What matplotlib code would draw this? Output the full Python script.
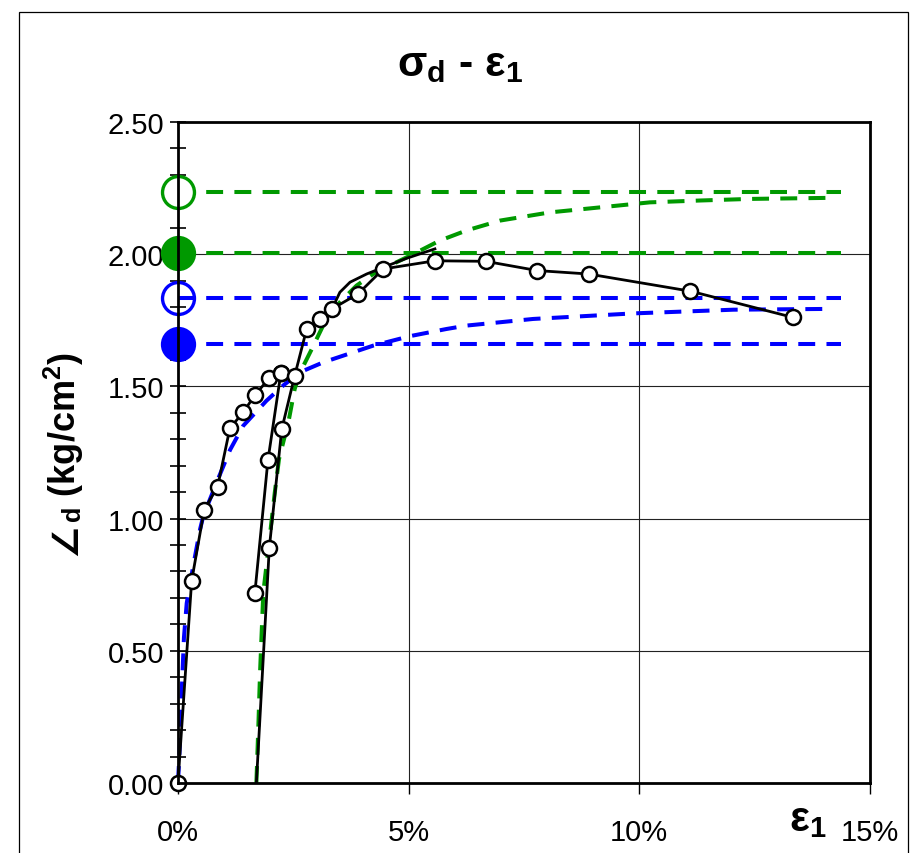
import matplotlib
matplotlib.use("Agg")
import matplotlib.pyplot as plt
from matplotlib.patches import Rectangle
from matplotlib.ticker import MultipleLocator, FixedLocator, FixedFormatter

plt.rcParams['font.family'] = ['Liberation Sans', 'DejaVu Sans']
plt.rcParams['mathtext.fontset'] = 'custom'
plt.rcParams['mathtext.rm'] = 'Liberation Sans:bold'
plt.rcParams['mathtext.it'] = 'Liberation Sans:bold'
plt.rcParams['mathtext.bf'] = 'Liberation Sans:bold'

tick_size = 21

# ---------------- data (strain in %, stress in kg/cm2) ----------------
load_x = [0.0, 0.297, 0.570, 0.860, 1.126, 1.415, 1.668, 1.978, 2.231]
load_y = [0.0, 0.765, 1.034, 1.121, 1.342, 1.402, 1.467, 1.531, 1.551]

unload_x = [2.231, 1.950, 1.668]
unload_y = [1.551, 1.220, 0.720]

reload_x = [1.70, 1.98, 2.25, 2.53, 2.79, 3.08, 3.34, 3.905, 4.45, 5.57, 6.67, 7.79, 8.90, 11.11, 13.33]
reload_y = [0.00, 0.889, 1.338, 1.540, 1.717, 1.755, 1.793, 1.850, 1.944, 1.975, 1.973, 1.938, 1.925, 1.860, 1.761]

upper_x = [3.34, 3.51, 3.73, 4.09, 4.45, 4.95, 5.57]
upper_y = [1.793, 1.856, 1.894, 1.925, 1.950, 1.984, 2.020]

blue_x = [0.0, 0.03, 0.06, 0.09, 0.13, 0.19, 0.33, 0.48, 0.55, 0.87, 1.13, 1.415, 1.92,
          2.28, 2.64, 3.15, 4.23, 5.03, 5.82, 6.26, 7.70, 9.87, 12.04, 14.13]
blue_y = [0.0, 0.10, 0.25, 0.38, 0.55, 0.68, 0.82, 0.96, 1.01, 1.15, 1.26, 1.351, 1.446,
          1.503, 1.553, 1.591, 1.654, 1.690, 1.717, 1.730, 1.755, 1.776, 1.790, 1.793]

green_x = [1.70, 1.74, 1.78, 1.85, 1.96, 2.10, 2.19, 2.40, 2.53, 2.64, 2.90, 3.18, 3.51, 3.87,
           4.23, 4.59, 5.10, 5.67, 6.26, 6.98, 8.06, 9.15, 10.23, 11.32, 12.40, 14.13]
green_y = [0.0, 0.20, 0.42, 0.72, 0.885, 1.10, 1.225, 1.37, 1.49, 1.55, 1.641, 1.742, 1.818, 1.881,
           1.925, 1.957, 2.000, 2.051, 2.090, 2.127, 2.158, 2.177, 2.196, 2.203, 2.209, 2.213]

green_ult = 2.234
green_fail = 2.003
blue_ult = 1.833
blue_fail = 1.662
hline_x = [0.0, 14.38]

x_ticks = [0, 5, 10, 15]
x_labels = ['0%', '5%', '10%', '15%']

GREEN = '#009900'
BLUE = '#0000FF'

fig = plt.figure(figsize=(9.14, 8.54), dpi=100)
ax = fig.add_axes([0.1947, 0.0820, 0.7571, 0.7740])

# outer frame of the chart
fig.patches.append(Rectangle((0.0208, -0.02), 0.9726, 1.0048, transform=fig.transFigure,
                             fill=False, edgecolor='black', linewidth=0.9, zorder=0))

ax.set_xlim(0, 15)
ax.set_ylim(0, 2.5)

for g in [5, 10]:
    ax.axvline(g, color='#222222', lw=0.8, zorder=1)
for g in [0.5, 1.0, 1.5, 2.0]:
    ax.axhline(g, color='#222222', lw=0.8, zorder=1)

dash = (0, (4.2, 2.8))
lwd = 2.9

# horizontal reference lines with markers on the axis
ax.plot(hline_x, [green_ult] * 2, ls=dash, lw=lwd, color=GREEN, marker='o', markevery=[0],
        ms=23, mfc='white', mec=GREEN, mew=2.4, clip_on=False, zorder=3)
ax.plot(hline_x, [green_fail] * 2, ls=dash, lw=lwd, color=GREEN, marker='o', markevery=[0],
        ms=23, mfc=GREEN, mec=GREEN, mew=2.4, clip_on=False, zorder=3)
ax.plot(hline_x, [blue_ult] * 2, ls=dash, lw=lwd, color=BLUE, marker='o', markevery=[0],
        ms=23, mfc='none', mec=BLUE, mew=2.4, clip_on=False, zorder=3)
ax.plot(hline_x, [blue_fail] * 2, ls=dash, lw=lwd, color=BLUE, marker='o', markevery=[0],
        ms=23, mfc=BLUE, mec=BLUE, mew=2.4, clip_on=False, zorder=3)

# fitted curves
ax.plot(blue_x, blue_y, ls=dash, lw=lwd, color=BLUE, zorder=3, clip_on=False)
ax.plot(green_x, green_y, ls=dash, lw=lwd, color=GREEN, zorder=3, clip_on=False)

# measured data
mk = dict(marker='o', ms=10.8, mfc='white', mec='black', mew=1.8)
ax.plot(upper_x, upper_y, color='black', lw=2.0, zorder=4)
ax.plot(load_x, load_y, color='black', lw=2.0, zorder=5, clip_on=False, **mk)
ax.plot(unload_x, unload_y, color='black', lw=2.0, zorder=5, **mk)
ax.plot(reload_x, reload_y, color='black', lw=2.0, zorder=5, markevery=list(range(1, len(reload_x))), **mk)

# axes styling
for s in ax.spines.values():
    s.set_linewidth(2.0)
    s.set_color('black')
    s.set_zorder(6)

ax.xaxis.set_major_locator(FixedLocator(x_ticks))
ax.xaxis.set_major_formatter(FixedFormatter(x_labels))
ax.yaxis.set_major_locator(MultipleLocator(0.5))
ax.yaxis.set_minor_locator(MultipleLocator(0.1))
ax.yaxis.set_major_formatter(plt.FormatStrFormatter('%.2f'))
ax.tick_params(axis='y', which='both', direction='inout', length=12, width=1.2,
               labelsize=tick_size, pad=4)
ax.tick_params(axis='x', which='major', direction='out', length=8, width=1.0,
               labelsize=tick_size, pad=17)

ax.set_xlabel('ε$_\\mathregular{1}$', fontsize=30, fontweight='bold')
ax.xaxis.set_label_coords(0.91, -0.024)

# y-axis title, built from two pieces so that the angle sign has a font that carries it
base_x = 0.083
t1 = fig.text(base_x, 0.4, '∠', rotation=90, rotation_mode='anchor', fontsize=26,
              fontweight='bold', family=['DejaVu Sans'], ha='right', va='baseline')
t2 = fig.text(base_x, 0.4, '$_\\mathregular{d}$ (kg/cm$^\\mathregular{2}$)', rotation=90,
              rotation_mode='anchor', fontsize=26, fontweight='bold', ha='left', va='baseline')
fig.canvas.draw()
r = fig.canvas.get_renderer()
b1 = t1.get_window_extent(r)
b2 = t2.get_window_extent(r)
ymin = min(b1.y0, b2.y0)
ymax = max(b1.y1, b2.y1)
target = (1 - 454 / 854) * fig.bbox.height
shift = (target - (ymin + ymax) / 2) / fig.bbox.height
t1.set_y(0.4 + shift)
t2.set_y(0.4 + shift)

fig.text(0.503, 0.924, 'σ$_\\mathregular{d}$ - ε$_\\mathregular{1}$', fontsize=31,
         fontweight='bold', ha='center', va='center')

fig.savefig('out.png', dpi=100)
